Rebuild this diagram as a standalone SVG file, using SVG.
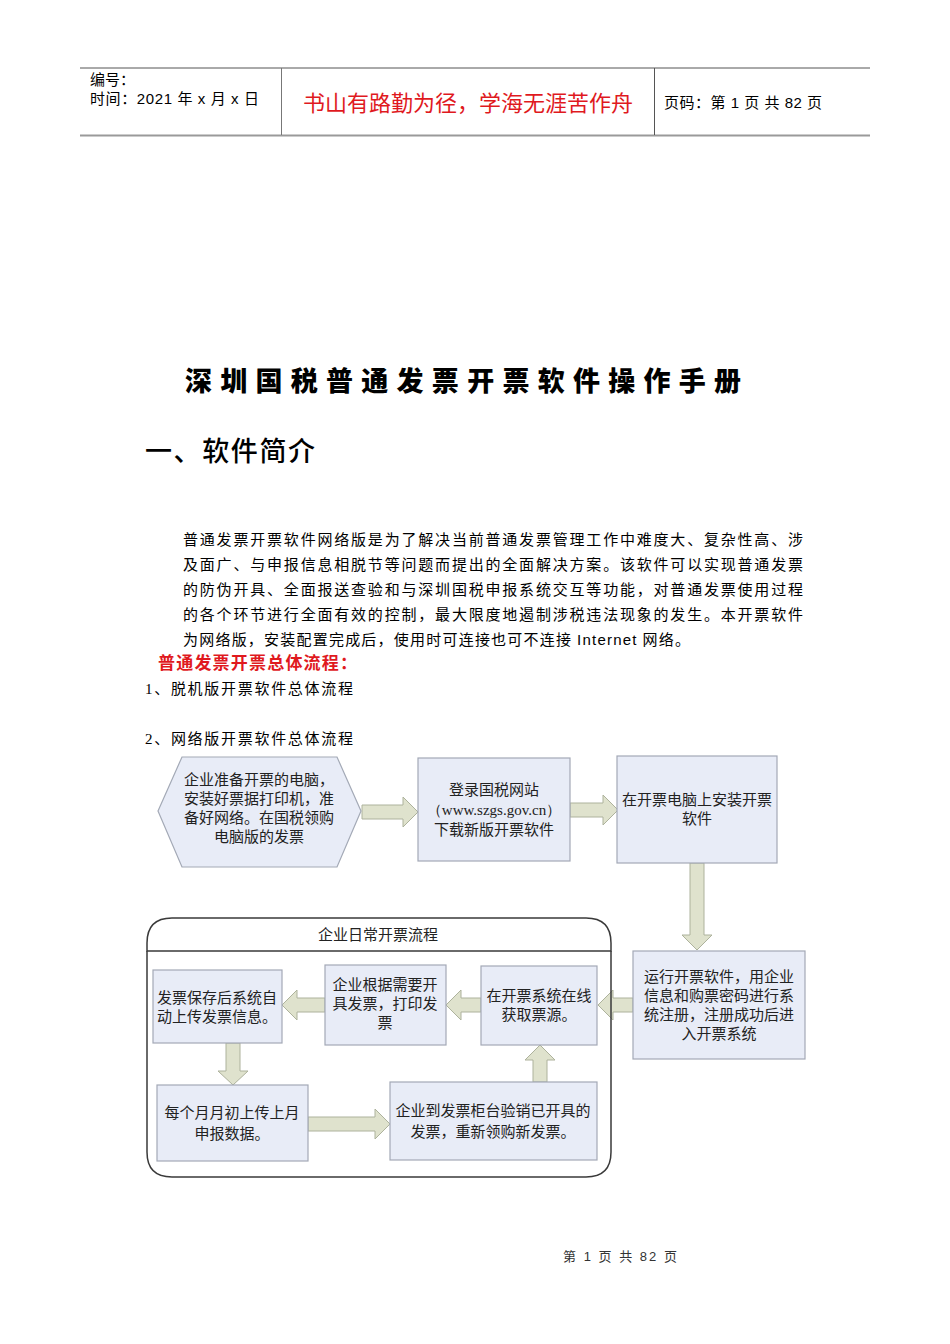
<svg xmlns="http://www.w3.org/2000/svg" width="950" height="1344" viewBox="0 0 950 1344">
<style>
.t{font-family:"Liberation Sans","Noto Sans CJK SC",sans-serif;fill:#000}
.s{font-family:"Liberation Serif","Noto Sans CJK SC",serif;fill:#000}
.n{font-family:"Noto Sans CJK SC",sans-serif;font-size:15px;fill:#222;text-anchor:middle}
.box{fill:#e8ecf7;stroke:#a3a9b6;stroke-width:1.2}
.arr{fill:#dfe2cd;stroke:#adb29c;stroke-width:1}
</style>
<rect width="950" height="1344" fill="#fff"/>
<!-- header -->
<g id="header">
<line x1="80" y1="68" x2="870" y2="68" stroke="#555" stroke-width="1"/>
<line x1="80" y1="135.5" x2="870" y2="135.5" stroke="#9a9a9a" stroke-width="2"/>
<line x1="281.5" y1="68" x2="281.5" y2="135" stroke="#777" stroke-width="1"/>
<line x1="654.5" y1="68" x2="654.5" y2="135" stroke="#555" stroke-width="1"/>
<text class="t" x="90" y="85" font-size="15">编号：</text>
<text class="t" x="90" y="104" font-size="15" textLength="169" lengthAdjust="spacing">时间：2021 年 x 月 x 日</text>
<text x="468" y="111" font-family="Noto Sans CJK SC,sans-serif" font-size="22" fill="#e0191e" text-anchor="middle">书山有路勤为径，学海无涯苦作舟</text>
<text class="t" x="664" y="108" font-size="15" textLength="158" lengthAdjust="spacing">页码：第 1 页  共 82 页</text>
</g>
<!-- title -->
<text x="463" y="391" font-family="Noto Sans CJK SC,sans-serif" font-weight="900" font-size="27" text-anchor="middle" textLength="556" lengthAdjust="spacing">深圳国税普通发票开票软件操作手册</text>
<text x="145" y="461" font-family="Noto Sans CJK SC,sans-serif" font-size="27" font-weight="500" textLength="170" lengthAdjust="spacing">一、软件简介</text>
<g font-size="15">
<text class="s" x="183" y="545" textLength="620" lengthAdjust="spacing">普通发票开票软件网络版是为了解决当前普通发票管理工作中难度大、复杂性高、涉</text>
<text class="s" x="183" y="570" textLength="620" lengthAdjust="spacing">及面广、与申报信息相脱节等问题而提出的全面解决方案。该软件可以实现普通发票</text>
<text class="s" x="183" y="595" textLength="620" lengthAdjust="spacing">的防伪开具、全面报送查验和与深圳国税申报系统交互等功能，对普通发票使用过程</text>
<text class="s" x="183" y="620" textLength="620" lengthAdjust="spacing">的各个环节进行全面有效的控制，最大限度地遏制涉税违法现象的发生。本开票软件</text>
<text class="s" x="183" y="645" textLength="507" lengthAdjust="spacing">为网络版，安装配置完成后，使用时可连接也可不连接 <tspan font-family="Liberation Sans,sans-serif">Internet</tspan> 网络。</text>
</g>
<text x="158" y="669" font-family="Noto Sans CJK SC,sans-serif" font-weight="bold" font-size="17" fill="#e0191e" textLength="199" lengthAdjust="spacing">普通发票开票总体流程：</text>
<text class="s" x="145" y="694" font-size="15" textLength="208" lengthAdjust="spacing">1、脱机版开票软件总体流程</text>
<text class="s" x="145" y="744" font-size="15" textLength="208" lengthAdjust="spacing">2、网络版开票软件总体流程</text>

<!-- connectors -->
<g id="connectors">
<polygon class="arr" points="362,805 403,805 403,797 418,812 403,827 403,819 362,819"/>
<polygon class="arr" points="570,803 603,803 603,795 618,810 603,825 603,817 570,817"/>
<polygon class="arr" points="690,863 704,863 704,935 712,935 697,950 682,935 690,935"/>
<polygon class="arr" points="633,998 613,998 613,990 598,1005 613,1020 613,1012 633,1012"/>
<polygon class="arr" points="481,998 461,998 461,990 446,1005 461,1020 461,1012 481,1012"/>
<polygon class="arr" points="325,998 297,998 297,990 282,1005 297,1020 297,1012 325,1012"/>
<polygon class="arr" points="226,1043 240,1043 240,1071 248,1071 233,1085 218,1071 226,1071"/>
<polygon class="arr" points="308,1117 375,1117 375,1109 390,1124 375,1139 375,1131 308,1131"/>
<polygon class="arr" points="533,1082 547,1082 547,1060 555,1060 540,1045 525,1060 533,1060"/>
</g>

<!-- nodes -->
<g id="n1">
<polygon class="box" points="158,811 182,757 337,757 361,811 337,867 182,867"/>
<text class="n" x="259" y="785">企业准备开票的电脑，</text>
<text class="n" x="259" y="804">安装好票据打印机，准</text>
<text class="n" x="259" y="823">备好网络。在国税领购</text>
<text class="n" x="259" y="842">电脑版的发票</text>
</g>
<g id="n2">
<rect class="box" x="418" y="758" width="152" height="103"/>
<text class="n" x="494" y="795">登录国税网站</text>
<text x="494" y="815" font-family="Liberation Serif,serif" font-size="15" fill="#222" text-anchor="middle">（www.szgs.gov.cn）</text>
<text class="n" x="494" y="835">下载新版开票软件</text>
</g>
<g id="n3">
<rect class="box" x="617" y="756" width="160" height="107"/>
<text class="n" x="697" y="805">在开票电脑上安装开票</text>
<text class="n" x="697" y="824">软件</text>
</g>
<g id="n4">
<rect class="box" x="633" y="951" width="172" height="108"/>
<text class="n" x="719" y="982">运行开票软件，用企业</text>
<text class="n" x="719" y="1001">信息和购票密码进行系</text>
<text class="n" x="719" y="1020">统注册，注册成功后进</text>
<text class="n" x="719" y="1039">入开票系统</text>
</g>
<g id="container">
<path d="M147,951 L147,1152 Q147,1177 172,1177 L586,1177 Q611,1177 611,1152 L611,951" fill="none" stroke="#3a3a3a" stroke-width="1.5"/>
<path d="M147,951 L147,943 Q147,918 172,918 L586,918 Q611,918 611,943 L611,951 Z" fill="#fff" stroke="#3a3a3a" stroke-width="1.5"/>
<text class="n" x="378" y="940">企业日常开票流程</text>
</g>
<g id="nA">
<rect class="box" x="153" y="970" width="129" height="73"/>
<text class="n" x="217" y="1003">发票保存后系统自</text>
<text class="n" x="217" y="1022">动上传发票信息。</text>
</g>
<g id="nB">
<rect class="box" x="325" y="965" width="121" height="80"/>
<text class="n" x="385" y="990">企业根据需要开</text>
<text class="n" x="385" y="1009">具发票，打印发</text>
<text class="n" x="385" y="1028">票</text>
</g>
<g id="nC">
<rect class="box" x="481" y="966" width="116" height="79"/>
<text class="n" x="539" y="1001">在开票系统在线</text>
<text class="n" x="539" y="1020">获取票源。</text>
</g>
<g id="nD">
<rect class="box" x="157" y="1085" width="151" height="76"/>
<text class="n" x="232" y="1118">每个月月初上传上月</text>
<text class="n" x="232" y="1139">申报数据。</text>
</g>
<g id="nE">
<rect class="box" x="390" y="1082" width="207" height="78"/>
<text class="n" x="493" y="1116">企业到发票柜台验销已开具的</text>
<text class="n" x="493" y="1137">发票，重新领购新发票。</text>
</g>
<text x="620" y="1261" font-family="Liberation Sans,Noto Sans CJK SC,sans-serif" font-size="13" fill="#333" text-anchor="middle" textLength="114" lengthAdjust="spacing">第 1 页 共 82 页</text>
</svg>
